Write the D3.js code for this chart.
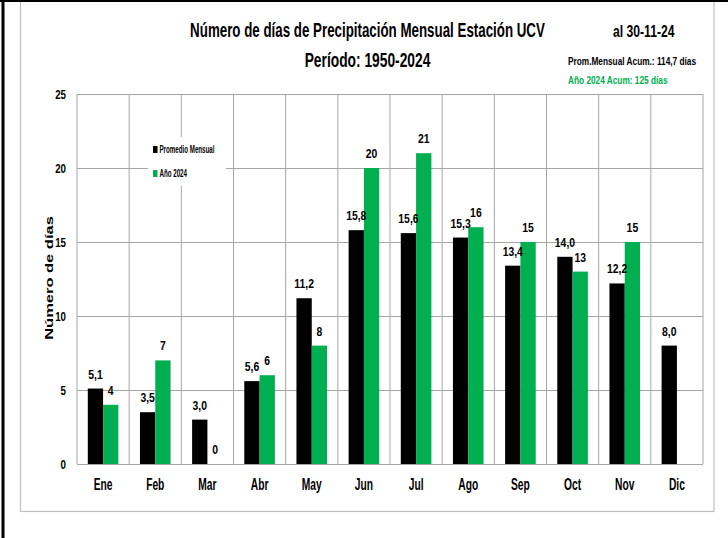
<!DOCTYPE html>
<html><head><meta charset="utf-8">
<script src="https://cdn.jsdelivr.net/npm/d3@7"></script>
<style>
body{margin:0;background:#fff}
svg text{font-family:"Liberation Sans",Arial,sans-serif;font-weight:bold}
</style>
</head><body>
<svg id="c" width="728" height="538"></svg>
<script>
// ---- data ----
const months = ["Ene","Feb","Mar","Abr","May","Jun","Jul","Ago","Sep","Oct","Nov","Dic"];
const promedio = [5.1,3.5,3.0,5.6,11.2,15.8,15.6,15.3,13.4,14.0,12.2,8.0];
const anio2024 = [4,7,0,6,8,20,21,16,15,13,15,null];
const yTicks = [0,5,10,15,20,25];
const seriesNames = ["Promedio Mensual","Año 2024"];
const seriesKeys = ["prom","a2024"];
const seriesColors = ["#000000","#00B050"];
const titleText = "Número de días de Precipitación Mensual Estación UCV";
const subtitleText = "Período: 1950-2024";
const dateText = "al 30-11-24";
const promAcumText = "Prom.Mensual  Acum.: 114,7 días";
const anioAcumText = "Año 2024 Acum: 125 días";
const yTitle = "Número de días";

// ---- layout ----
const svg = d3.select("#c");
const L = 77, R = 703, T = 94, B = 464;

const x0 = d3.scaleBand().domain(months).range([L, R]).padding(0);
const x1 = d3.scaleBand().domain(seriesKeys).range([0, x0.bandwidth()]).paddingInner(0).paddingOuter(0.705);
const y = d3.scaleLinear().domain([0, 25]).range([B, T]);

// outer borders
svg.append("rect").attr("x",20.5).attr("y",-2).attr("width",693.5).attr("height",513.5)
  .attr("fill","none").attr("stroke","#BFBFBF").attr("stroke-width",1.2);
svg.append("line").attr("x1",3).attr("x2",3).attr("y1",0).attr("y2",538)
  .attr("stroke","#000").attr("stroke-width",3);
svg.append("line").attr("x1",0).attr("x2",728).attr("y1",1).attr("y2",1)
  .attr("stroke","#000").attr("stroke-width",2);

// gridlines (horizontal via axis)
const gy = svg.append("g").attr("transform",`translate(${L},0)`)
  .call(d3.axisLeft(y).tickValues(yTicks).tickSize(-(R-L)).tickFormat(""));
gy.select(".domain").remove();
gy.selectAll(".tick line").attr("stroke","#A6A6A6").attr("stroke-width",1);

// vertical gridlines at category boundaries
const bounds = months.map(m => x0(m)).concat([R]);
svg.append("g").selectAll("line").data(bounds).join("line")
  .attr("x1",d=>d).attr("x2",d=>d).attr("y1",T).attr("y2",B)
  .attr("stroke","#A6A6A6").attr("stroke-width",1);

// y tick labels
svg.append("g").selectAll("text").data(yTicks).join("text")
  .attr("transform",d=>`translate(66,${y(d)+4.5}) scale(0.75,1)`)
  .attr("text-anchor","end").attr("font-size",13).text(d=>d);

// bars
const rows = months.map((m,i)=>({m, prom:promedio[i], a2024:anio2024[i]}));
const g = svg.append("g");
seriesKeys.forEach((k,si)=>{
  g.selectAll(`rect.${k}`).data(rows.filter(r=>r[k]!==null)).join("rect")
    .attr("class",k)
    .attr("x",r=>x0(r.m)+x1(k))
    .attr("width",x1.bandwidth())
    .attr("y",r=>y(r[k]))
    .attr("height",r=>B-y(r[k]))
    .attr("fill",seriesColors[si]);
});

// data labels
const fmtProm = v => d3.format(".1f")(v).replace(".",",");
const fmtInt = v => d3.format("d")(v);
seriesKeys.forEach((k,si)=>{
  g.selectAll(`text.l${k}`).data(rows.filter(r=>r[k]!==null)).join("text")
    .attr("class","l"+k)
    .attr("transform",r=>`translate(${x0(r.m)+x1(k)+x1.bandwidth()/2},${y(r[k])-10}) scale(0.8,1)`)
    .attr("text-anchor","middle").attr("font-size",13).attr("fill","#000")
    .text(r=> k==="prom" ? fmtProm(r[k]) : fmtInt(r[k]));
});

// x labels
svg.append("g").selectAll("text").data(months).join("text")
  .attr("transform",m=>`translate(${x0(m)+x0.bandwidth()/2},489.5) scale(0.64,1)`)
  .attr("text-anchor","middle").attr("font-size",16).text(m=>m);

// y title
svg.append("text")
  .attr("transform","translate(49,278) scale(0.67,1) rotate(-90)")
  .attr("text-anchor","middle").attr("dominant-baseline","central")
  .attr("font-size",16.5).text(yTitle);

// titles
svg.append("text").attr("transform","translate(367.5,37) scale(0.667,1)")
  .attr("text-anchor","middle").attr("font-size",20).text(titleText);
svg.append("text").attr("transform","translate(367.5,67) scale(0.69,1)")
  .attr("text-anchor","middle").attr("font-size",20).text(subtitleText);
svg.append("text").attr("transform","translate(613,36.5) scale(0.76,1)")
  .attr("font-size",16).text(dateText);
svg.append("text").attr("transform","translate(568,64.5) scale(0.72,1)")
  .attr("font-size",11.5).text(promAcumText);
svg.append("text").attr("transform","translate(568,84) scale(0.72,1)")
  .attr("font-size",11.5).attr("fill","#00B050").text(anioAcumText);

// legend
const lg = svg.append("g");
lg.append("rect").attr("x",148).attr("y",137).attr("width",78).attr("height",49).attr("fill","#fff");
seriesNames.forEach((n,i)=>{
  const cy = 149.5 + i*24;
  lg.append("rect").attr("x",153).attr("y",cy-3.5).attr("width",4.5).attr("height",7).attr("fill",seriesColors[i]);
  lg.append("text").attr("transform",`translate(159.5,${cy+3.5}) scale(0.62,1)`)
    .attr("font-size",10).text(n);
});
</script>
</body></html>
